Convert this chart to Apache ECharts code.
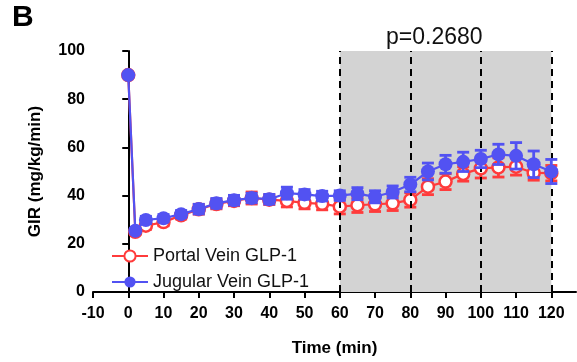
<!DOCTYPE html>
<html><head><meta charset="utf-8">
<script src="https://cdn.jsdelivr.net/npm/echarts@6/dist/echarts.min.js"></script>
<style>html,body{margin:0;padding:0;background:#fff}#c{width:577px;height:362px}</style>
</head><body><div id="c"></div>
<script>
var times = [0,2,5,10,15,20,25,30,35,40,45,50,55,60,65,70,75,80,85,90,95,100,105,110,115,120];
var portal = [90,25,27.5,29,31.8,34.3,36.5,37.8,39,38.3,37.8,37,36.6,35.4,36,36.4,36.8,38.2,43.7,45.8,49,51.3,51.7,52,49.4,49.3];
var portalErr = [0,1,1.5,1.5,1.5,2,2,2,2.5,2,2.5,2.5,2.5,3,3,3,3,3,3.3,3.3,3,4,4,3.5,3,3.2];
var jugular = [90,25.4,29.9,30.6,32.3,34.4,36.8,38.1,39,38.5,41,40.5,39.8,40,40.8,39.5,41.5,44.6,50,53,54,55.2,57.1,56.5,53,50];
var jugularErr = [0,1,1.5,1.5,1.5,2,2,2,2,2,2.5,2,2,2,2.5,2.5,2.5,3,3.5,3.7,4,3.6,4.2,5.5,5.5,5];
var xTicks = [-10,0,10,20,30,40,50,60,70,80,90,100,110,120];
var shadedRange = [60,120];
var dashedLines = [60,80,100,120];
var pText = 'p=0.2680';

var RED = '#FF3B3B', BLUE = '#5252F2';
var FONT = 'Liberation Sans, Arial, sans-serif';

function errData(vals, errs){ return times.map(function(t,i){ return [t, vals[i]-errs[i], vals[i]+errs[i]]; }); }
function errSeries(name, vals, errs, color, z){
  return {
    type:'custom', name: name+'-err', z: z, silent:true,
    data: errData(vals, errs),
    renderItem: function(params, api){
      var x = api.value(0), lo = api.value(1), hi = api.value(2);
      var p1 = api.coord([x, lo]), p2 = api.coord([x, hi]);
      var w = 6;
      var st = {stroke: color, lineWidth: 2.8};
      return {type:'group', children:[
        {type:'line', shape:{x1:p1[0],y1:p1[1],x2:p2[0],y2:p2[1]}, style:st},
        {type:'line', shape:{x1:p1[0]-w,y1:p1[1],x2:p1[0]+w,y2:p1[1]}, style:st},
        {type:'line', shape:{x1:p2[0]-w,y1:p2[1],x2:p2[0]+w,y2:p2[1]}, style:st}
      ]};
    }
  };
}

var chart = echarts.init(document.getElementById('c'), null, {renderer:'canvas'});
chart.setOption({
  animation:false,
  textStyle:{fontFamily:FONT},
  grid:{left:93, right:1, top:51, bottom:66, containLabel:false},
  legend:{
    orient:'vertical', left:106, top:242, itemWidth:36, itemHeight:14, itemGap:8,
    textStyle:{fontSize:18, color:'#111', fontFamily:FONT},
    data:['Portal Vein GLP-1','Jugular Vein GLP-1']
  },
  xAxis:{
    type:'value', min:-10, max:127,
    name:'Time (min)', nameLocation:'middle', nameGap:48,
    nameTextStyle:{fontSize:17, fontWeight:'bold', color:'#000', fontFamily:FONT},
    axisLine:{lineStyle:{color:'#000', width:2}},
    axisTick:{show:true, length:6, lineStyle:{color:'#000', width:2}, customValues:xTicks},
    axisLabel:{fontSize:16, fontWeight:'bold', color:'#000', margin:14, customValues:xTicks, fontFamily:FONT},
    splitLine:{show:false}
  },
  yAxis:{
    type:'value', min:0, max:100, interval:20,
    name:'GIR (mg/kg/min)', nameLocation:'middle', nameGap:49, nameRotate:90,
    nameTextStyle:{fontSize:17, fontWeight:'bold', color:'#000', fontFamily:FONT},
    axisLine:{show:true, lineStyle:{color:'#000', width:2}},
    axisTick:{show:true, length:6, lineStyle:{color:'#000', width:2}},
    axisLabel:{fontSize:16, fontWeight:'bold', color:'#000', margin:8, fontFamily:FONT},
    splitLine:{show:false}
  },
  graphic:[
    {type:'text', left:12, top:3, style:{text:'B', font:'bold 30px '+FONT, fill:'#000'}},
    {type:'text', left:386, top:26, style:{text:pText, font:'23px '+FONT, fill:'#111'}}
  ],
  series:[
    {
      type:'line', name:'__bg', data:[], silent:true, z:0,
      markArea:{silent:true, itemStyle:{color:'#d3d3d3'}, data:[[{xAxis:shadedRange[0], yAxis:0},{xAxis:shadedRange[1], yAxis:100}]]},
      markLine:{silent:true, symbol:'none', label:{show:false},
        lineStyle:{color:'#000', width:2, type:[7,5]},
        data: dashedLines.map(function(v){ return [{coord:[v,0]},{coord:[v,100]}]; })}
    },
    errSeries('Portal Vein GLP-1', portal, portalErr, RED, 3),
    {
      type:'line', name:'Portal Vein GLP-1', z:4,
      data: times.map(function(t,i){return [t, portal[i]];}),
      symbol:'circle', symbolSize:12, showSymbol:true,
      lineStyle:{color:RED, width:2.2},
      itemStyle:{color:'#fff', borderColor:RED, borderWidth:2.5}
    },
    errSeries('Jugular Vein GLP-1', jugular, jugularErr, BLUE, 5),
    {
      type:'line', name:'Jugular Vein GLP-1', z:6,
      data: times.map(function(t,i){return [t, jugular[i]];}),
      symbol:'circle', symbolSize:14, showSymbol:true,
      lineStyle:{color:BLUE, width:2.2},
      itemStyle:{color:BLUE, borderColor:BLUE, borderWidth:0}
    }
  ]
});
</script></body></html>
